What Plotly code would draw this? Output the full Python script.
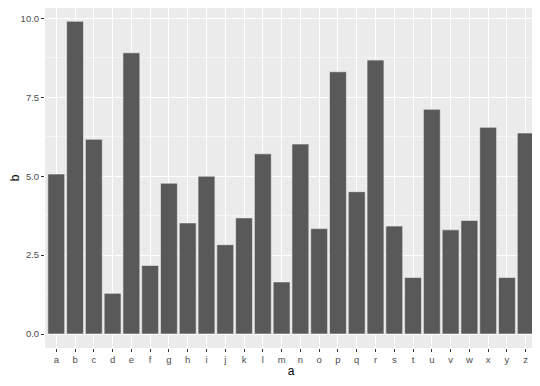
import plotly.graph_objects as go

categories = list("abcdefghijklmnopqrstuvwxyz")
values = [5.07, 9.91, 6.17, 1.29, 8.91, 2.17, 4.78, 3.52, 5.00, 2.83, 3.68, 5.71, 1.65,
          6.02, 3.34, 8.31, 4.51, 8.68, 3.42, 1.79, 7.12, 3.30, 3.60, 6.55, 1.79, 6.37]
y_ticks = [0, 2.5, 5, 7.5, 10]
y_tick_labels = ["0.0", "2.5", "5.0", "7.5", "10.0"]

fig = go.Figure(go.Bar(
    x=categories, y=values,
    marker=dict(color="#595959", line=dict(color="#f2f2f2", width=0.6)),
    width=0.9,
))

# page body has an 8px default margin, so the figure is 8px smaller
fig.update_layout(
    width=532, height=378,
    margin=dict(l=37, r=3, t=0, b=38),
    paper_bgcolor="white",
    plot_bgcolor="#EBEBEB",
    font=dict(family="Liberation Sans, Arial, sans-serif", color="#4d4d4d", size=9.5),
    showlegend=False,
    bargap=0.1,
)
fig.update_xaxes(
    range=[-0.6, 25.6], automargin=False,
    showgrid=True, gridcolor="white", gridwidth=1.1,
    ticks="outside", ticklen=3, tickcolor="#333333", tickwidth=1,
    zeroline=False, showline=False,
    title=dict(text="a", font=dict(size=12, color="black"), standoff=2),
    tickfont=dict(size=9.5, color="#4d4d4d"),
)
fig.update_yaxes(
    range=[-0.443, 10.33], automargin=False,
    tickvals=y_ticks, ticktext=y_tick_labels,
    showgrid=True, gridcolor="white", gridwidth=1.1,
    minor=dict(tickvals=[1.25, 3.75, 6.25, 8.75], showgrid=True, gridcolor="#F5F5F5", gridwidth=0.6, ticks=""),
    ticks="outside", ticklen=3, tickcolor="#333333", tickwidth=1,
    zeroline=False, showline=False,
    title=dict(text="b", font=dict(size=12, color="black"), standoff=4),
    tickfont=dict(size=9.5, color="#4d4d4d"),
)

fig.write_html("out.html")
